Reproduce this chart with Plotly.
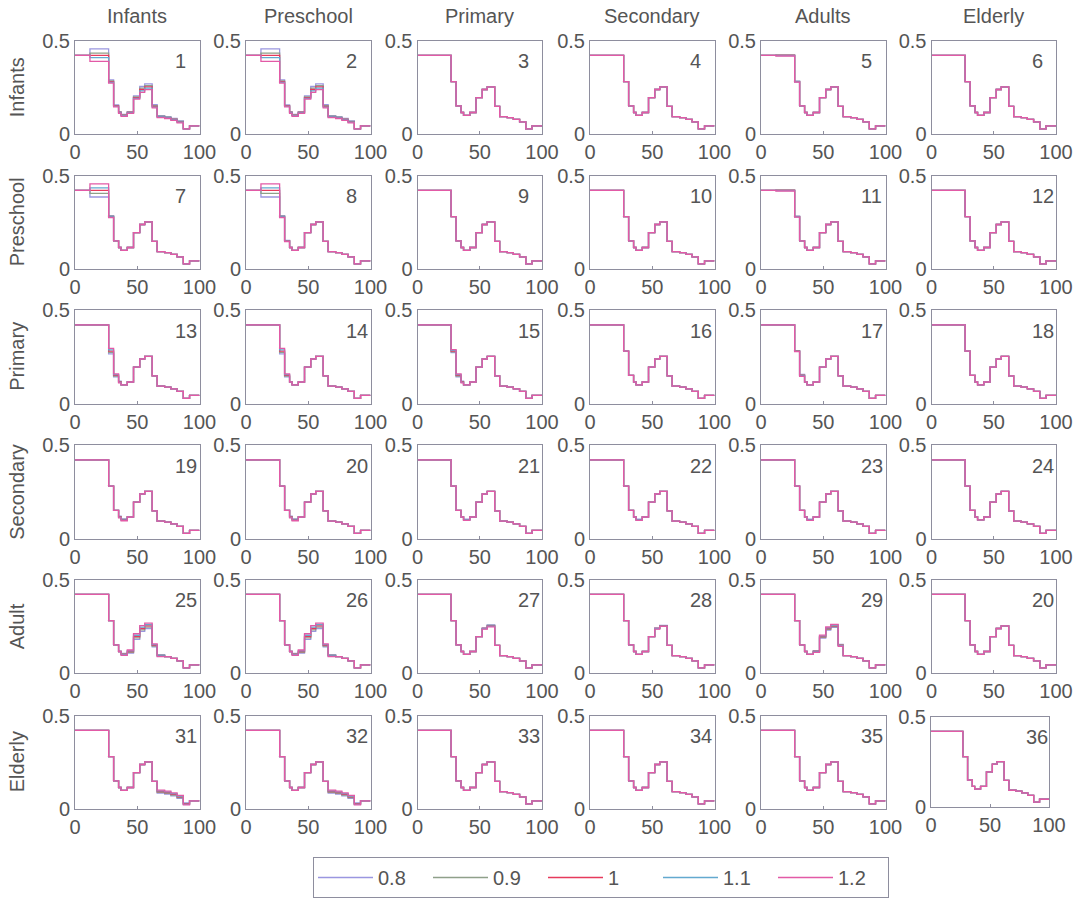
import plotly.graph_objects as go

# ---- data -------------------------------------------------------------
FACTORS = ["0.8", "0.9", "1", "1.1", "1.2"]
COL_GROUPS = ["Infants", "Preschool", "Primary", "Secondary", "Adults", "Elderly"]
ROW_GROUPS = ["Infants", "Preschool", "Primary", "Secondary", "Adult", "Elderly"]
PANEL_LABELS = [
    "1", "2", "3", "4", "5", "6",
    "7", "8", "9", "10", "11", "12",
    "13", "14", "15", "16", "17", "18",
    "19", "20", "21", "22", "23", "24",
    "25", "26", "27", "28", "29", "20",
    "31", "32", "33", "34", "35", "36",
]

# step edges along the x axis and the level of each step at factor 1
STEP_EDGES = [0, 12, 27, 31, 35, 37, 42, 47, 52, 56, 62, 66, 72, 77, 82, 87, 92, 100]
BASE_LEVEL = [0.42, 0.42, 0.28, 0.15, 0.115, 0.10, 0.115, 0.195, 0.238, 0.252,
              0.148, 0.093, 0.088, 0.078, 0.065, 0.027, 0.043]

# offsets from the factor-1 level for factors 0.8, 0.9, 1, 1.1, 1.2
WIDE_DOWN = [0.035, 0.013, 0.0, -0.012, -0.032]
WIDE_UP = [-0.035, -0.016, 0.0, 0.014, 0.035]
MID_DOWN = [0.016, 0.007, 0.0, -0.007, -0.015]
MID_UP = [-0.015, -0.007, 0.0, 0.007, 0.015]
SMALL_DOWN = [0.009, 0.004, 0.0, -0.004, -0.008]
SMALL_UP = [-0.008, -0.004, 0.0, 0.004, 0.008]
TINY = [0.005, 0.002, 0.0, -0.002, -0.005]
FAINT = [0.003, 0.001, 0.0, -0.001, -0.003]

PANEL_OFFSETS = {
    1: {1: WIDE_DOWN, 2: SMALL_DOWN, 3: TINY, 4: TINY, 5: TINY, 6: TINY,
        7: SMALL_DOWN, 8: MID_DOWN, 9: MID_DOWN, 10: SMALL_DOWN,
        11: TINY, 12: TINY, 13: TINY, 14: TINY},
    2: {1: WIDE_DOWN, 2: SMALL_DOWN, 3: TINY, 4: TINY, 5: TINY, 6: TINY,
        7: SMALL_DOWN, 8: MID_DOWN, 9: MID_DOWN, 10: SMALL_DOWN,
        11: TINY, 12: TINY, 13: TINY, 14: TINY},
    5: {1: FAINT, 2: FAINT},
    7: {1: WIDE_UP, 2: TINY},
    8: {1: WIDE_UP, 2: TINY, 3: FAINT},
    11: {1: FAINT, 2: FAINT},
    13: {2: MID_UP, 3: SMALL_UP, 4: TINY},
    14: {2: MID_UP, 3: SMALL_UP},
    15: {2: SMALL_UP, 3: SMALL_UP, 4: TINY},
    17: {2: FAINT, 3: TINY},
    19: {4: TINY, 5: TINY},
    20: {4: TINY, 5: TINY},
    21: {5: FAINT},
    22: {5: FAINT},
    23: {5: FAINT},
    25: {5: TINY, 6: SMALL_UP, 7: MID_UP, 8: MID_UP, 9: MID_UP,
         10: SMALL_UP, 11: TINY},
    26: {5: TINY, 6: SMALL_UP, 7: MID_UP, 8: MID_UP, 9: MID_UP,
         10: SMALL_UP, 11: TINY},
    27: {8: FAINT, 9: TINY},
    28: {8: FAINT, 9: FAINT},
    29: {6: TINY, 7: SMALL_UP, 8: SMALL_UP, 9: SMALL_UP, 10: TINY},
    31: {11: SMALL_UP, 12: SMALL_UP, 13: SMALL_UP, 14: SMALL_UP, 15: TINY},
    32: {11: SMALL_UP, 12: SMALL_UP, 13: SMALL_UP, 14: SMALL_UP, 15: TINY},
}

# ---- styling / layout -------------------------------------------------
FIG_W, FIG_H = 1091, 902
LINE_COLORS = ["#9a96e0", "#8fa08a", "#e63a5c", "#63a9cf", "#e25aa6"]
TEXT_COLOR = "#555555"
BOX_COLOR = "#8e8e9e"
FONT = "Liberation Sans, Arial, sans-serif"

COL_LEFT = [75, 246, 417.5, 590, 761, 931.5]
ROW_TOP = [40.5, 175.5, 310, 445, 579.5, 715.5]
BOX_W = 124.5
BOX_H = 93.5


def px_x(x):
    return x / FIG_W


def px_y(y):
    return 1 - y / FIG_H


fig = go.Figure()
annotations = []

for r in range(6):
    for c in range(6):
        n = r * 6 + c + 1
        left, top, w, h = COL_LEFT[c], ROW_TOP[r], BOX_W, BOX_H
        if n == 36:
            left, top, w, h = 931, 717, 118, 90
        xname = "xaxis" if n == 1 else f"xaxis{n}"
        yname = "yaxis" if n == 1 else f"yaxis{n}"
        xref = "x" if n == 1 else f"x{n}"
        yref = "y" if n == 1 else f"y{n}"

        fig.layout[xname] = dict(
            domain=[px_x(left), px_x(left + w)], anchor=yref,
            range=[0, 100], tickvals=[0, 50, 100], ticktext=["0", "50", "100"],
            ticks="inside", ticklen=3, tickcolor=BOX_COLOR,
            showline=True, linecolor=BOX_COLOR, linewidth=1, mirror=True,
            showgrid=False, zeroline=False, automargin=False,
            tickfont=dict(size=20, color=TEXT_COLOR, family=FONT),
        )
        fig.layout[yname] = dict(
            domain=[px_y(top + h), px_y(top)], anchor=xref,
            range=[0, 0.5], tickvals=[0, 0.5], ticktext=["0", "0.5"],
            ticks="inside", ticklen=3, tickcolor=BOX_COLOR,
            showline=True, linecolor=BOX_COLOR, linewidth=1, mirror=True,
            showgrid=False, zeroline=False, automargin=False,
            tickfont=dict(size=20, color=TEXT_COLOR, family=FONT),
        )

        offsets = PANEL_OFFSETS.get(n, {})
        for k, label in enumerate(FACTORS):
            levels = [BASE_LEVEL[s] + offsets.get(s, [0.0] * 5)[k]
                      for s in range(len(BASE_LEVEL))]
            levels.append(levels[-1])
            fig.add_trace(go.Scatter(
                x=STEP_EDGES, y=levels, mode="lines",
                line=dict(color=LINE_COLORS[k], width=1.3, shape="hv"),
                name=label, legendgroup=label, showlegend=(n == 1),
                xaxis=xref, yaxis=yref, hoverinfo="skip",
            ))

        annotations.append(dict(
            text=PANEL_LABELS[n - 1], xref=f"{xref} domain", yref=f"{yref} domain",
            x=0.79, y=0.78, xanchor="left", yanchor="middle", showarrow=False,
            font=dict(size=20, color=TEXT_COLOR, family=FONT),
        ))

for c, name in enumerate(COL_GROUPS):
    annotations.append(dict(
        text=name, xref="paper", yref="paper",
        x=px_x(COL_LEFT[c] + BOX_W / 2), y=px_y(16),
        xanchor="center", yanchor="middle", showarrow=False,
        font=dict(size=20, color=TEXT_COLOR, family=FONT),
    ))

for r, name in enumerate(ROW_GROUPS):
    annotations.append(dict(
        text=name, xref="paper", yref="paper",
        x=px_x(17), y=px_y(ROW_TOP[r] + BOX_H / 2),
        xanchor="center", yanchor="middle", textangle=-90, showarrow=False,
        font=dict(size=20, color=TEXT_COLOR, family=FONT),
    ))

fig.update_layout(
    width=FIG_W, height=FIG_H,
    margin=dict(l=0, r=0, t=0, b=0, autoexpand=False),
    paper_bgcolor="white", plot_bgcolor="white",
    annotations=annotations,
    showlegend=True,
    legend=dict(
        orientation="h", x=px_x(601), y=px_y(898),
        xanchor="center", yanchor="bottom",
        bordercolor=BOX_COLOR, borderwidth=1, bgcolor="white",
        font=dict(size=20, color=TEXT_COLOR, family=FONT),
        itemwidth=55, entrywidth=45, entrywidthmode="pixels",
    ),
)

fig.write_html("out.html")
